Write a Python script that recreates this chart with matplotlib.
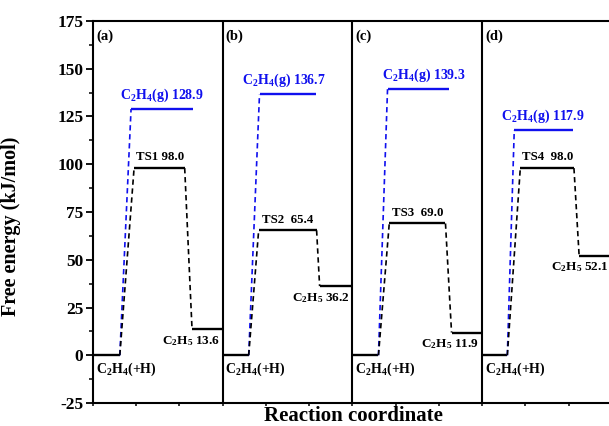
import matplotlib
matplotlib.use("Agg")
import matplotlib.pyplot as plt
from matplotlib.ticker import MultipleLocator

plt.rcParams['font.family'] = ['Liberation Serif', 'DejaVu Serif']
plt.rcParams['font.weight'] = 'bold'
plt.rcParams['mathtext.default'] = 'regular'
plt.rcParams['axes.unicode_minus'] = False

# ---- data ----
panel_tags = ['(a)', '(b)', '(c)', '(d)']
ts_names = ['TS1', 'TS2', 'TS3', 'TS4']
E_start = [0.0, 0.0, 0.0, 0.0]
E_gas = [128.9, 136.7, 139.3, 117.9]
E_ts = [98.0, 65.4, 69.0, 98.0]
E_c2h5 = [13.6, 36.2, 11.9, 52.1]

# ---- layout within each panel (panel width = 3 units) ----
start_end = [0.62, 0.60, 0.60, 0.58]
gas_span = [(0.88, 2.31), (0.85, 2.15), (0.81, 2.24), (0.74, 2.10)]
ts_span = [(0.95, 2.12), (0.83, 2.17), (0.85, 2.15), (0.88, 2.12)]
c2h5_start = [2.29, 2.24, 2.29, 2.24]
gas_lbl_x = [1.60, 1.42, 1.66, 1.41]
ts_lbl_x = [1.55, 1.50, 1.50, 1.52]

W = 3.0
fig = plt.figure(figsize=(6.09, 4.26), dpi=100)
ax = fig.add_axes([93/609, 1-403/426, (612-93)/609, (403-21)/426])

lw_level = 1.7
dash = (0, (3.2, 2.2))
blue = '#1010ee'

for i in range(4):
    o = i * W
    # levels
    ax.plot([o, o + start_end[i]], [E_start[i]] * 2, color='k', lw=lw_level, solid_capstyle='butt')
    ax.plot([o + gas_span[i][0], o + gas_span[i][1]], [E_gas[i]] * 2, color=blue, lw=lw_level, solid_capstyle='butt')
    ax.plot([o + ts_span[i][0], o + ts_span[i][1]], [E_ts[i]] * 2, color='k', lw=lw_level, solid_capstyle='butt')
    ax.plot([o + c2h5_start[i], o + W], [E_c2h5[i]] * 2, color='k', lw=lw_level, solid_capstyle='butt')
    # connectors
    ax.plot([o + start_end[i], o + gas_span[i][0]], [E_start[i], E_gas[i]], color=blue, lw=1.2, ls=dash)
    ax.plot([o + start_end[i], o + ts_span[i][0]], [E_start[i], E_ts[i]], color='k', lw=1.2, ls=dash)
    ax.plot([o + ts_span[i][1], o + c2h5_start[i]], [E_ts[i], E_c2h5[i]], color='k', lw=1.2, ls=dash)
    # labels
    ax.text(o + 0.07, 170.5, panel_tags[i], fontsize=10.5, fontweight='bold', va='top', ha='left')
    ax.text(o + gas_lbl_x[i], E_gas[i] + 2.5, f'C$_2$H$_4$(g) {E_gas[i]:.1f}', color=blue,
            fontsize=10, fontweight='bold', ha='center', va='bottom')
    sep = ' ' if i == 0 else '  '
    ax.text(o + ts_lbl_x[i], E_ts[i] + 2.5, f'{ts_names[i]}{sep}{E_ts[i]:.1f}',
            fontsize=9.3, fontweight='bold', ha='center', va='bottom')
    ax.text(o + W - 0.07, E_c2h5[i] - 2.5, f'C$_2$H$_5$ {E_c2h5[i]:.1f}',
            fontsize=9.5, fontweight='bold', ha='right', va='top')
    ax.text(o + 0.06, E_start[i] - 3.0, 'C$_2$H$_4$(+H)',
            fontsize=10, fontweight='bold', ha='left', va='top')
    if i > 0:
        ax.axvline(o, color='k', lw=1.5)

ax.set_xlim(0, 4 * W)
ax.set_ylim(-25, 175)
ax.yaxis.set_major_locator(MultipleLocator(25))
ax.yaxis.set_minor_locator(MultipleLocator(12.5))
ax.xaxis.set_major_locator(MultipleLocator(1))
ax.set_xticklabels([])
ax.tick_params(axis='y', which='major', direction='out', length=5, width=1.3, labelsize=12.5, pad=2)
ax.tick_params(axis='y', which='minor', direction='out', length=3, width=1.1)
ax.tick_params(axis='x', which='major', direction='out', length=2.5, width=1.1)
for lab in ax.get_yticklabels():
    lab.set_fontweight('bold')
for s in ax.spines.values():
    s.set_linewidth(1.5)

ax.set_ylabel('Free energy (kJ/mol)', fontsize=14.5, fontweight='bold')
ax.yaxis.set_label_coords(-(93 - 21) / (612 - 93), (403 - 226) / (403 - 21))
fig.text(353/609, 1 - 416/426, 'Reaction coordinate', fontsize=15, fontweight='bold', ha='center', va='center')

fig.savefig('out.png', dpi=100)
